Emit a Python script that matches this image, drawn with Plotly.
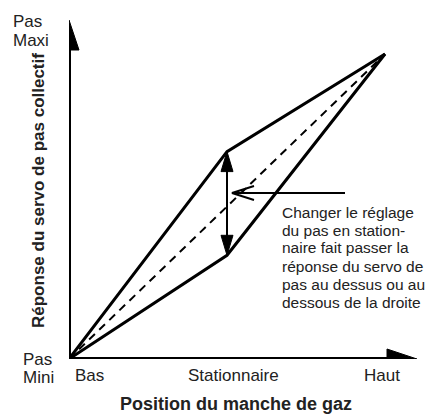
import plotly.graph_objects as go

# Throttle stick position (0 = Bas, 1 = Haut) against collective servo response (0 = Pas Mini, 1 = Pas Maxi)
throttle = [0.0, 0.5, 1.0]
pitch_linear = [0.0, 0.5, 1.0]
pitch_hover_up = [0.0, 0.68, 1.0]
pitch_hover_down = [0.0, 0.34, 1.0]

x_tick_labels = ["Bas", "Stationnaire", "Haut"]
y_min_label = ["Pas", "Mini"]
y_max_label = ["Pas", "Maxi"]
x_title = "Position du manche de gaz"
y_title = "Réponse du servo de pas collectif"
note_lines = [
    "Changer le réglage",
    "du pas en station-",
    "naire fait passer la",
    "réponse du servo de",
    "pas au dessus ou au",
    "dessous de la droite",
]

# ---- page geometry (pixels) ----
W, H = 435, 414
ML, MR, MT, MB = 69, 18, 20, 55
PW = W - ML - MR
PH = H - MT - MB
SX = 316.0          # pixels per unit of stick travel
SY = 305.0          # pixels per unit of pitch
XMAX = PW / SX
YMAX = PH / SY

FONT = "Liberation Sans, Arial, Helvetica, sans-serif"
TEXT = "#222222"


def dx(px):
    return px / SX


def dy(px):
    return px / SY


def paper_x(px):
    return (px - ML) / PW


def paper_y(py):
    return (H - MB - py) / PH


def head(tip_x, tip_y, ux, uy, length, half):
    """Filled triangle arrowhead; (ux, uy) is the pointing direction in pixels."""
    bx, by = tip_x - dx(ux * length), tip_y - dy(uy * length)
    px, py = -uy, ux
    return ([bx + dx(px * half), tip_x, bx - dx(px * half), bx + dx(px * half)],
            [by + dy(py * half), tip_y, by - dy(py * half), by + dy(py * half)])


fig = go.Figure()

# straight reference response (dashed)
fig.add_trace(go.Scatter(x=throttle, y=pitch_linear, mode="lines",
                         line=dict(color="black", width=2, dash="8px,6px")))
# hover pitch raised / lowered
for ys in (pitch_hover_up, pitch_hover_down):
    fig.add_trace(go.Scatter(x=throttle, y=ys, mode="lines",
                             line=dict(color="black", width=3)))

# axes with arrow tips
AH_LEN, AH_HALF = 30, 10
fig.add_trace(go.Scatter(x=[0, 0, XMAX - dx(AH_LEN)], y=[YMAX - dy(AH_LEN), 0, 0],
                         mode="lines", line=dict(color="black", width=4),
                         cliponaxis=False))
for hx, hy in (head(0, YMAX, 0, 1, AH_LEN, AH_HALF), head(XMAX, 0, 1, 0, AH_LEN, AH_HALF)):
    fig.add_trace(go.Scatter(x=hx, y=hy, mode="lines", fill="toself", fillcolor="black",
                             line=dict(color="black", width=1), cliponaxis=False))

# double arrow between the two hover settings
xs = throttle[1]
top, bot = pitch_hover_up[1], pitch_hover_down[1]
VH_LEN, VH_HALF = 20, 6
fig.add_trace(go.Scatter(x=[xs, xs], y=[top - dy(VH_LEN - 2), bot + dy(VH_LEN - 2)], mode="lines",
                         line=dict(color="black", width=2)))
for hx, hy in (head(xs, top, 0, 1, VH_LEN, VH_HALF), head(xs, bot, 0, -1, VH_LEN, VH_HALF)):
    fig.add_trace(go.Scatter(x=hx, y=hy, mode="lines", fill="toself", fillcolor="black",
                             line=dict(color="black", width=1)))

# pointer from the note towards the arrow
tip_x, tip_y = xs + dx(5), dy(359 - 193)
tail_x = dx(345 - ML)
fig.add_trace(go.Scatter(
    x=[tail_x, tip_x, None, tip_x + dx(22), tip_x, tip_x + dx(22)],
    y=[tip_y, tip_y, None, tip_y + dy(7), tip_y, tip_y - dy(7)],
    mode="lines", line=dict(color="black", width=2)))

annotations = []


def label(text, px, py, size=17, anchor="left", angle=0, pad=1):
    annotations.append(dict(text=text, x=paper_x(px), y=paper_y(py), xref="paper", yref="paper",
                            xanchor=anchor, yanchor="middle", showarrow=False, textangle=angle,
                            borderpad=pad,
                            font=dict(family=FONT, size=size, color=TEXT)))


for i, line in enumerate(note_lines):
    label(line, 281, 212 + 18 * i, size=15.5, pad=0)

label(y_max_label[0], 12, 21, pad=0)
label(y_max_label[1], 12, 40, pad=0)
label(y_min_label[0], 22, 359, pad=0)
label(y_min_label[1], 22, 377, pad=0)

for text, cx in zip(x_tick_labels, (89, 233, 382)):
    label(text, cx, 375, anchor="center")

label("<b>" + x_title + "</b>", 236, 404, size=18, anchor="center")
label("<b>" + y_title + "</b>", 38, 191, size=17, anchor="center", angle=-90)

fig.update_layout(
    width=W, height=H,
    margin=dict(l=ML, r=MR, t=MT, b=MB, pad=0),
    paper_bgcolor="white", plot_bgcolor="white",
    showlegend=False,
    annotations=annotations,
    xaxis=dict(range=[0, XMAX], visible=False, fixedrange=True),
    yaxis=dict(range=[0, YMAX], visible=False, fixedrange=True),
)

fig.write_html("out.html", config={"displayModeBar": False})
